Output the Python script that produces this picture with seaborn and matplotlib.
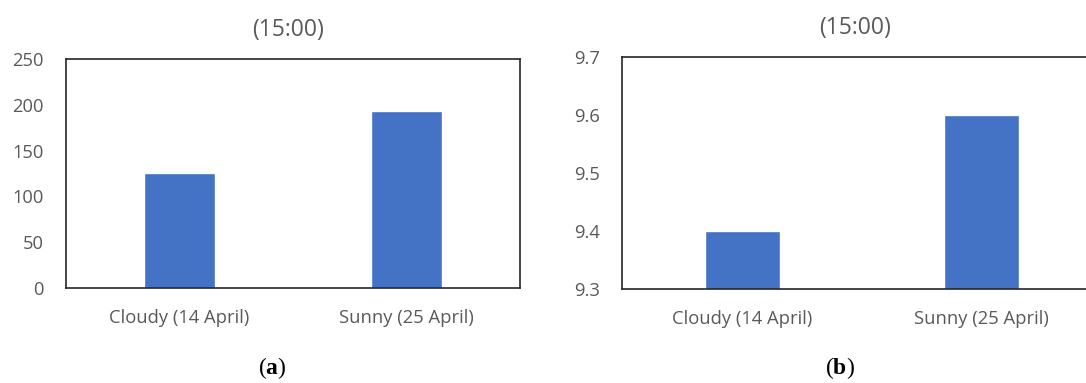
import matplotlib
matplotlib.use("Agg")
import matplotlib.pyplot as plt
import seaborn as sns
import pandas as pd

# Data
conditions = ["Cloudy (14 April)", "Sunny (25 April)"]
values_a = [126, 193]
values_b = [9.4, 9.6]
ticks_a = [0, 50, 100, 150, 200, 250]
ticks_b = [9.3, 9.4, 9.5, 9.6, 9.7]
panel_title = "(15:00)"

sns.set_theme(style="white")
plt.rcParams["font.family"] = ["Open Sans", "DejaVu Sans"]
plt.rcParams["mathtext.fontset"] = "custom"
plt.rcParams["mathtext.rm"] = "Liberation Serif"
plt.rcParams["mathtext.bf"] = "Liberation Serif:bold"

BAR = "#4472C4"
GREY = "#595959"
EDGE = "#262626"
W, H = 1086, 383

fig = plt.figure(figsize=(W / 100, H / 100), dpi=100)
fig.patch.set_facecolor("white")

ax1 = fig.add_axes([66 / W, (H - 288) / H, 454 / W, 229 / H])
ax2 = fig.add_axes([622.3 / W, (H - 289.3) / H, 479 / W, (289.3 - 56.7) / H])

df_a = pd.DataFrame({"condition": conditions, "value": values_a})
df_b = pd.DataFrame({"condition": conditions, "value": values_b})

sns.barplot(data=df_a, x="condition", y="value", ax=ax1, color=BAR,
            saturation=1, width=0.313)
sns.barplot(data=df_b, x="condition", y="value", ax=ax2, color=BAR,
            saturation=1, width=0.313)

for ax, ticks, fmt in ((ax1, ticks_a, "{:.0f}"), (ax2, ticks_b, "{:.1f}")):
    ax.set_xlim(-0.5, 1.5)
    ax.set_ylim(ticks[0], ticks[-1])
    ax.set_yticks(ticks)
    ax.set_yticklabels([fmt.format(t) for t in ticks])
    ax.set_xlabel("")
    ax.set_ylabel("")
    ax.tick_params(axis="both", length=0, colors=GREY, labelsize=13.2)
    ax.tick_params(axis="y", pad=16)
    ax.tick_params(axis="x", pad=15)
    for s in ax.spines.values():
        s.set_visible(True)
        s.set_color(EDGE)
        s.set_linewidth(1.2)

# the right-hand frame runs past the edge of the figure
ax2.spines["right"].set_visible(False)

fig.text(288 / W, 1 - 29.5 / H, panel_title, ha="center", va="center",
         color=GREY, fontsize=16.5)
fig.text(855 / W, 1 - 28 / H, panel_title, ha="center", va="center",
         color=GREY, fontsize=16.5)

fig.text(272.5 / W, 1 - 368 / H, r"$(\mathbf{a})$", ha="center", va="center",
         color="black", fontsize=17)
fig.text(839.5 / W, 1 - 368 / H, r"$(\mathbf{b})$", ha="center", va="center",
         color="black", fontsize=17)

fig.savefig("out.png", dpi=100, facecolor="white")
